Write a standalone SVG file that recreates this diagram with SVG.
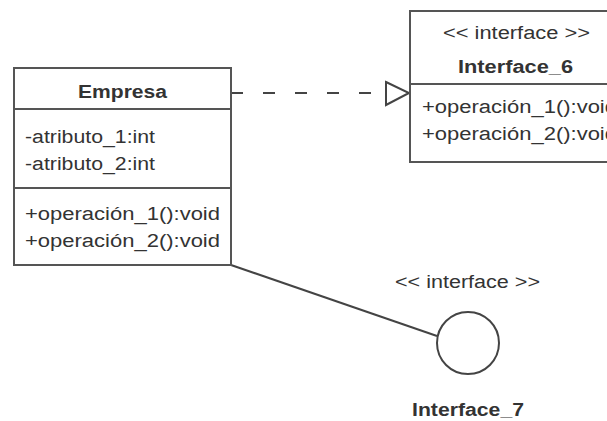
<svg xmlns="http://www.w3.org/2000/svg" width="607" height="421" viewBox="0 0 607 421">
<style>
.box{fill:#fff;stroke:#555;stroke-width:2}
.sep{stroke:#555;stroke-width:2}
text{font-family:"Liberation Sans",Arial,sans-serif;font-size:18px;fill:#333}
.b{font-weight:bold}
.conn{stroke:#444;stroke-width:2;fill:none}
</style>
<rect width="607" height="421" fill="#fff"/>
<g id="connectors">
<line class="conn" x1="231" y1="93" x2="386" y2="93" stroke-dasharray="12 20"/>
<polygon points="386,82 409,93 386,105" fill="#fff" stroke="#444" stroke-width="2"/>
<line class="conn" x1="231" y1="265" x2="437" y2="336"/>
</g>
<g id="empresa">
<rect class="box" x="14" y="68" width="217" height="197"/>
<line class="sep" x1="14" y1="109" x2="231" y2="109"/>
<line class="sep" x1="14" y1="188" x2="231" y2="188"/>
<text class="b" x="122.5" y="98" text-anchor="middle" textLength="89" lengthAdjust="spacingAndGlyphs">Empresa</text>
<text x="25" y="143" textLength="130" lengthAdjust="spacingAndGlyphs">-atributo_1:int</text>
<text x="25" y="170" textLength="130" lengthAdjust="spacingAndGlyphs">-atributo_2:int</text>
<text x="25" y="220" textLength="195" lengthAdjust="spacingAndGlyphs">+operación_1():void</text>
<text x="25" y="247" textLength="195" lengthAdjust="spacingAndGlyphs">+operación_2():void</text>
</g>
<g id="interface6">
<rect class="box" x="410" y="11" width="220" height="151"/>
<line class="sep" x1="410" y1="84" x2="630" y2="84"/>
<text x="443" y="39" textLength="147" lengthAdjust="spacingAndGlyphs">&lt;&lt; interface &gt;&gt;</text>
<text class="b" x="458" y="73" textLength="115" lengthAdjust="spacingAndGlyphs">Interface_6</text>
<text x="422" y="113" textLength="195" lengthAdjust="spacingAndGlyphs">+operación_1():void</text>
<text x="422" y="140" textLength="195" lengthAdjust="spacingAndGlyphs">+operación_2():void</text>
</g>
<g id="interface7">
<circle cx="468" cy="343" r="31" fill="#fff" stroke="#444" stroke-width="2"/>
<text x="395" y="288" textLength="145" lengthAdjust="spacingAndGlyphs">&lt;&lt; interface &gt;&gt;</text>
<text class="b" x="412" y="416" textLength="112" lengthAdjust="spacingAndGlyphs">Interface_7</text>
</g>
</svg>
